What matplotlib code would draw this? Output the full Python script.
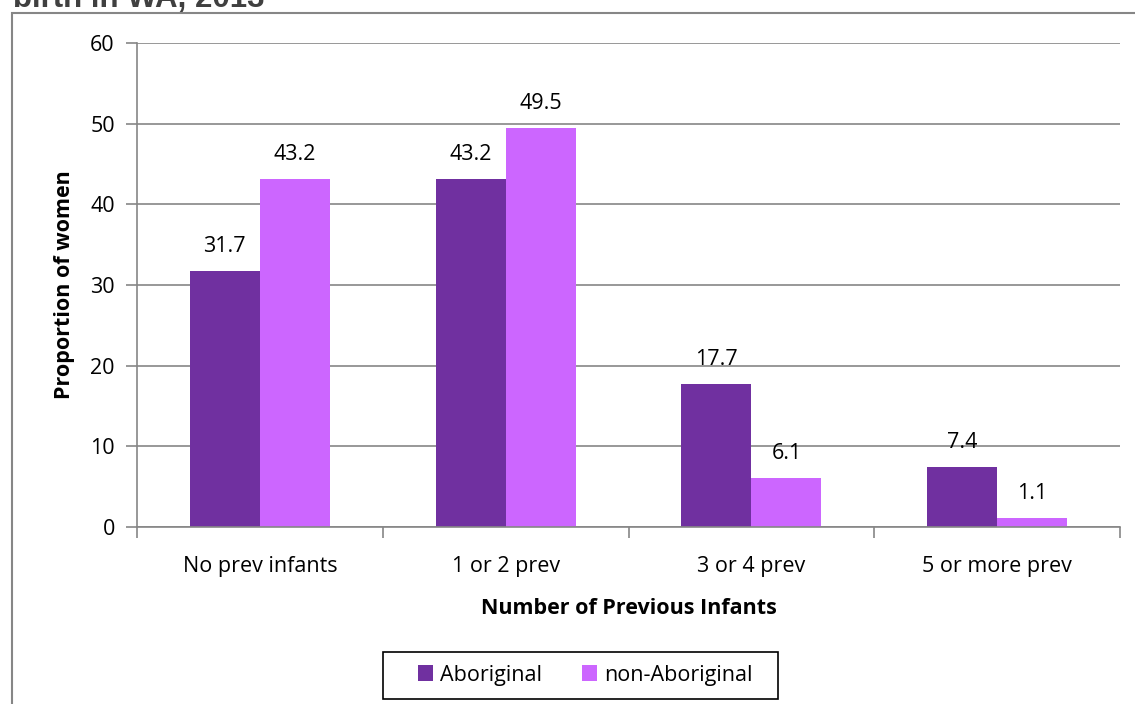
import matplotlib
matplotlib.use("Agg")
import matplotlib.pyplot as plt
from matplotlib.patches import Rectangle
import numpy as np

# data ----------------------------------------------------------------------
categories = ["No prev infants", "1 or 2 prev", "3 or 4 prev", "5 or more prev"]
aboriginal = [31.7, 43.2, 17.7, 7.4]
non_aboriginal = [43.2, 49.5, 6.1, 1.1]
series_names = ["Aboriginal", "non-Aboriginal"]
colors = ["#7030A0", "#CC66FF"]

plt.rcParams["font.family"] = ["Open Sans", "DejaVu Sans"]
FS = 15.5

W, H = 1135, 704
fig = plt.figure(figsize=(W / 100, H / 100), dpi=100)

# outer chart frame (right/bottom run off the picture)
fig.patches.append(Rectangle((12 / W, -0.1), 1.2, 1 - 13 / H + 0.1,
                             transform=fig.transFigure, fill=False,
                             edgecolor="#868686", linewidth=1.5))

# clipped title remnant
fig.text(13 / W, 1 - 7 / H, "birth in WA, 2013", fontsize=22.5, fontweight="bold",
         color="#404040", ha="left", va="baseline", family="Liberation Sans")

ax = fig.add_axes([137 / W, 1 - 527 / H, (1120 - 137) / W, (527 - 43) / H])

x = np.arange(len(categories))
bw = 0.285
b1 = ax.bar(x - bw / 2, aboriginal, bw, color=colors[0], label=series_names[0])
b2 = ax.bar(x + bw / 2, non_aboriginal, bw, color=colors[1], label=series_names[1])
for bars, vals in ((b1, aboriginal), (b2, non_aboriginal)):
    for r, v in zip(bars, vals):
        ax.text(r.get_x() + r.get_width() / 2, v + 2.35, f"{v:.1f}",
                ha="center", va="baseline", fontsize=FS)

ax.set_xlim(-0.5, len(categories) - 0.5)
ax.set_ylim(0, 60)
ax.set_yticks(range(0, 61, 10))
ax.yaxis.grid(True, color="#868686", linewidth=1.2)
ax.set_axisbelow(True)
for s in ("top", "right"):
    ax.spines[s].set_visible(False)
for s in ("left", "bottom"):
    ax.spines[s].set_color("#868686")
    ax.spines[s].set_linewidth(1.2)

ax.set_xticks(x)
ax.set_xticklabels(categories)
ax.tick_params(axis="x", length=0, pad=21, labelsize=FS)
ax.set_xticks(np.arange(-0.5, len(categories)), minor=True)
ax.tick_params(axis="x", which="minor", length=8, color="#868686", width=1.2)
ax.tick_params(axis="y", length=8, color="#868686", width=1.2, labelsize=FS, pad=8)

ax.set_xlabel("Number of Previous Infants", fontsize=FS, fontweight="bold", labelpad=15)
ax.set_ylabel("Proportion of women", fontsize=FS, fontweight="bold", labelpad=11)

# legend: box drawn separately to match the padding of the original
fig.patches.append(Rectangle((383 / W, 1 - 699 / H), (778 - 383) / W, 47 / H,
                             transform=fig.transFigure, fill=False,
                             edgecolor="black", linewidth=1.2))
leg = fig.legend(loc="center", bbox_to_anchor=(585 / W, 1 - 675 / H), ncol=2,
                 fontsize=FS, frameon=False, handlelength=0.7,
                 handleheight=0.7, handletextpad=0.33, columnspacing=1.85,
                 borderpad=0, borderaxespad=0)

fig.savefig("out.png", dpi=100)
